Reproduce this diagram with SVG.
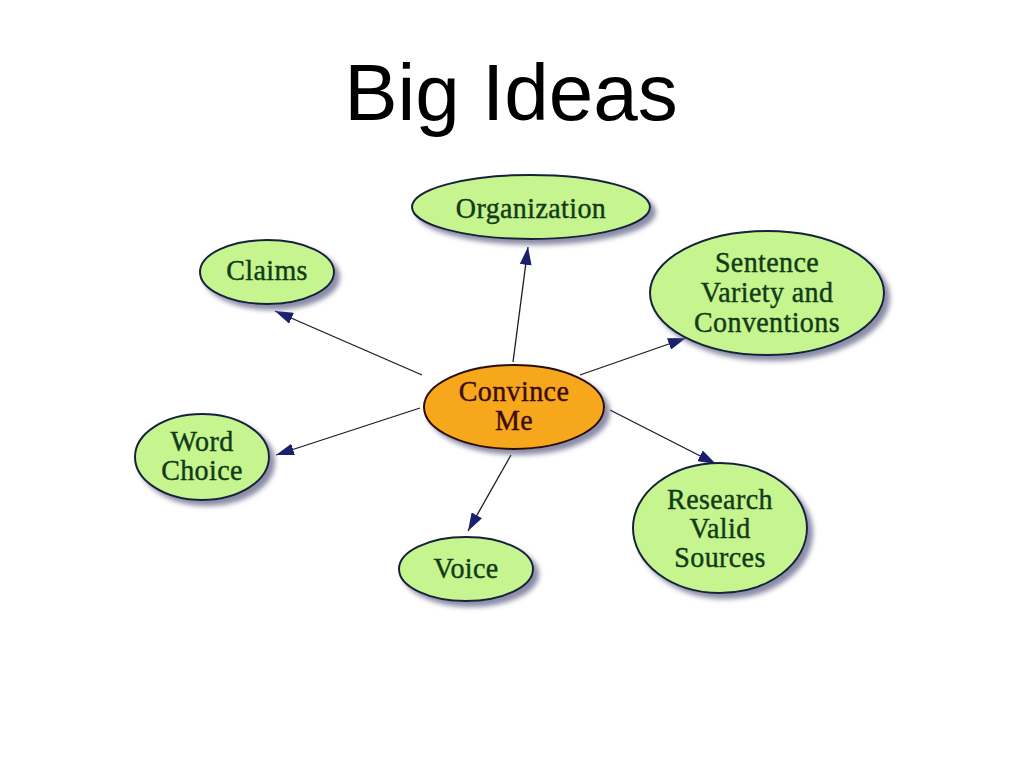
<svg xmlns="http://www.w3.org/2000/svg" width="1024" height="768" viewBox="0 0 1024 768">
<defs>
<style>
.n{fill:#c6f48e;stroke:#14213d;stroke-width:2;filter:url(#sh)}
.c{fill:#f7a71f;stroke:#2a0c08;stroke-width:2;filter:url(#sh)}
.t{font-family:"Liberation Serif","Times New Roman",serif;font-size:28px;fill:#113b17;stroke:#113b17;stroke-width:0.4;letter-spacing:0.4px;text-anchor:middle}
.tc{font-family:"Liberation Serif","Times New Roman",serif;font-size:28px;fill:#3a0c0a;stroke:#3a0c0a;stroke-width:0.4;letter-spacing:0.4px;text-anchor:middle}
.e{stroke:#1a1a2a;stroke-width:1.3;fill:none;marker-end:url(#ah)}
.title{font-family:"Liberation Sans",Arial,sans-serif;font-size:80px;fill:#000;text-anchor:middle}
</style>
<filter id="sh" x="-20%" y="-20%" width="150%" height="150%">
<feDropShadow dx="5" dy="5" stdDeviation="2.5" flood-color="#6e7090" flood-opacity="0.8"/>
</filter>
<marker id="ah" markerUnits="userSpaceOnUse" markerWidth="20" markerHeight="12" refX="18" refY="6" orient="auto">
<path d="M0,0 L18,6 L0,12 z" fill="#1a1f6e"/>
</marker>
</defs>
<rect width="1024" height="768" fill="#fff"/>
<text class="title" x="511" y="120">Big Ideas</text>
<g id="connectors">
<line class="e" x1="422" y1="375" x2="275" y2="311"/>
<line class="e" x1="513" y1="362" x2="528" y2="247"/>
<line class="e" x1="580" y1="375" x2="686" y2="338"/>
<line class="e" x1="420" y1="408" x2="276" y2="455"/>
<line class="e" x1="511" y1="455" x2="468" y2="531"/>
<line class="e" x1="610" y1="410" x2="716" y2="464"/>
</g>
<g id="organization">
<ellipse class="n" cx="531" cy="207" rx="119" ry="32"/>
<g transform="translate(531,207) scale(1,1.07)"><text class="t" y="10">Organization</text></g>
</g>
<g id="claims">
<ellipse class="n" cx="267" cy="272" rx="67" ry="32"/>
<g transform="translate(267,272) scale(1,1.07)"><text class="t" y="7.5">Claims</text></g>
</g>
<g id="sentence">
<ellipse class="n" cx="767" cy="293" rx="117" ry="62"/>
<g transform="translate(767,292) scale(1,1.07)"><text class="t" y="-18.7">Sentence</text><text class="t" y="9.3">Variety and</text><text class="t" y="37.3">Conventions</text></g>
</g>
<g id="convince">
<ellipse class="c" cx="514" cy="407" rx="90" ry="42"/>
<g transform="translate(514,407) scale(1,1.07)"><text class="tc" y="-5.6">Convince</text><text class="tc" y="21.5">Me</text></g>
</g>
<g id="word-choice">
<ellipse class="n" cx="202" cy="457" rx="67" ry="43"/>
<g transform="translate(202,456) scale(1,1.07)"><text class="t" y="-4.7">Word</text><text class="t" y="22.4">Choice</text></g>
</g>
<g id="voice">
<ellipse class="n" cx="466" cy="569" rx="67" ry="32"/>
<g transform="translate(466,569) scale(1,1.07)"><text class="t" y="8.4">Voice</text></g>
</g>
<g id="research">
<ellipse class="n" cx="720" cy="528" rx="87" ry="65"/>
<g transform="translate(720,527) scale(1,1.07)"><text class="t" y="-16.8">Research</text><text class="t" y="10.3">Valid</text><text class="t" y="37.4">Sources</text></g>
</g>
</svg>
